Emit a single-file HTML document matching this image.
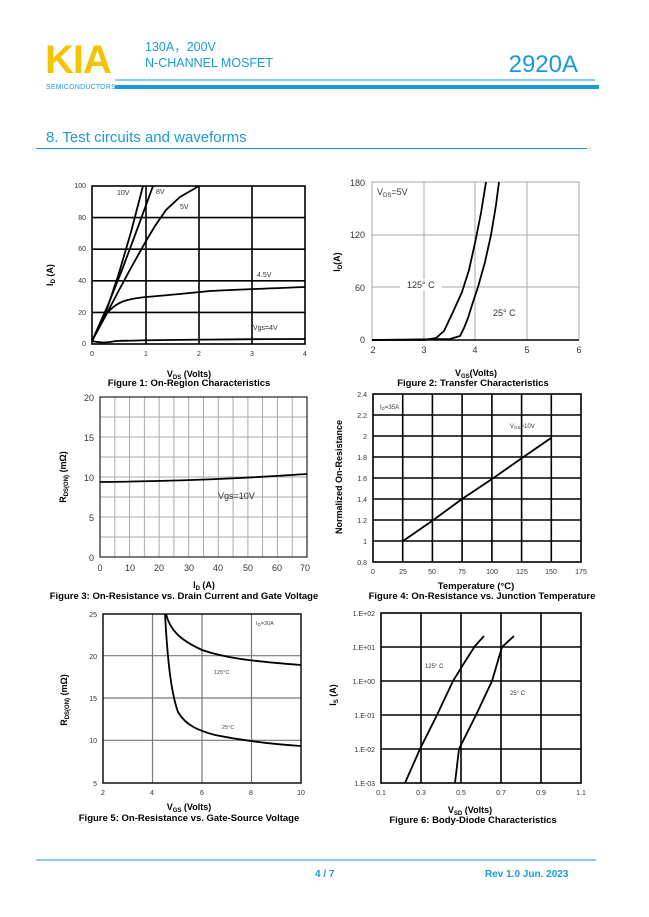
<!DOCTYPE html>
<html><head><meta charset="utf-8"><style>
html,body{margin:0;padding:0;background:#fff;}
svg{display:block;font-family:"Liberation Sans",Arial,sans-serif;}
.t{font-size:7px;fill:#333;}
.t9{font-size:9px;fill:#333;}
.b{font-weight:bold;fill:#000;}
.cap{font-size:9.5px;font-weight:bold;fill:#000;}
.g{stroke:#000;stroke-width:1.6;fill:none;}
.gl{stroke:#aaa;stroke-width:1;fill:none;}
.c{stroke:#000;stroke-width:1.8;fill:none;}
.blue{fill:#1a9bd6;}
</style></head><body>
<svg width="649" height="917" viewBox="0 0 649 917" xmlns="http://www.w3.org/2000/svg">
<!-- header -->
<text x="45" y="73" font-size="40" font-weight="bold" fill="#f5c400" letter-spacing="-1">KIA</text>
<text x="46" y="89" font-size="7" class="blue" letter-spacing="0.2">SEMICONDUCTORS</text>
<text x="145" y="51" font-size="12.5" class="blue">130A，200V</text>
<text x="145" y="67" font-size="12.5" class="blue">N-CHANNEL MOSFET</text>
<text x="578" y="72" font-size="24" class="blue" text-anchor="end">2920A</text>
<rect x="115" y="79.5" width="480" height="1" fill="#1a9bd6"/>
<rect x="115" y="85" width="484" height="4" fill="#1a9bd6"/>
<text x="46" y="142" font-size="15" class="blue">8. Test circuits and waveforms</text>
<rect x="36" y="148" width="551" height="1" fill="#1a9bd6"/>

<!-- Chart 1 -->
<g>
<path class="g" d="M146 186V344M199 186V344M252 186V344M92 312.4H305M92 280.8H305M92 249.2H305M92 217.6H305"/>
<rect x="92" y="186" width="213" height="158" class="g"/>
<g class="t" text-anchor="end">
<text x="86" y="188">100</text><text x="86" y="220">80</text><text x="86" y="251">60</text><text x="86" y="283">40</text><text x="86" y="315">20</text><text x="86" y="346">0</text></g>
<g class="t" text-anchor="middle">
<text x="92" y="356">0</text><text x="146" y="356">1</text><text x="199" y="356">2</text><text x="252" y="356">3</text><text x="305" y="356">4</text></g>
<path class="c" d="M92 341L106 312L119 273L131 232L143 186"/>
<path class="c" d="M92 341L108 305L122 270L138 227L153 186"/>
<path class="c" d="M92 341L105 317L118 292L132 266L146 241L155 226L166 210L180 197L199 186"/>
<path class="c" d="M92 341C100 325 104 316 110 310C118 302 126 299 146 297C170 295 190 293 210 291C250 289 280 288 305 287"/>
<path class="c" d="M92 341C100 343 106 343 116 341C150 340 250 339 305 339"/>
<g class="t"><text x="117" y="195">10V</text><text x="156" y="194">8V</text><text x="180" y="209">5V</text><text x="257" y="277">4.5V</text><text x="253" y="330">Vgs=4V</text></g>
<text x="53" y="275" transform="rotate(-90 53 275)" font-size="9" class="b" text-anchor="middle">I<tspan font-size="6" dy="2">D</tspan><tspan dy="-2"> (A)</tspan></text>
<text x="189" y="377" font-size="9" class="b" text-anchor="middle">V<tspan font-size="6" dy="2">DS</tspan><tspan dy="-2"> (Volts)</tspan></text>
<text x="189" y="386" class="cap" text-anchor="middle">Figure 1: On-Region Characteristics</text>
</g>

<!-- Chart 2 -->
<g>
<path class="gl" d="M424 182V340M475 182V340M527 182V340M372 287H579M372 235H579"/>
<rect x="372" y="182" width="207" height="158" class="gl"/>
<line x1="372" y1="340" x2="579" y2="340" stroke="#000" stroke-width="1.5"/>
<rect x="400" y="279" width="42" height="12" fill="#fff"/>
<rect x="485" y="305" width="40" height="14" fill="#fff"/>
<g class="t9" text-anchor="end"><text x="365" y="186">180</text><text x="365" y="238">120</text><text x="365" y="291">60</text><text x="365" y="343">0</text></g>
<g class="t9" text-anchor="middle"><text x="373" y="353">2</text><text x="424" y="353">3</text><text x="475" y="353">4</text><text x="527" y="353">5</text><text x="579" y="353">6</text></g>
<path class="c" d="M372 340L424 340L436 338L444 331L453 312L462 292L469 270L475 243L481 213L486 182"/>
<path class="c" d="M372 340L450 339L460 336L464 328L468 318L473 302L478 287L485 262L491 235L496 205L499 182"/>
<text x="377" y="195" class="t9">V<tspan font-size="6" dy="2">DS</tspan><tspan dy="-2">=5V</tspan></text>
<text x="407" y="288" class="t9">125° C</text>
<text x="493" y="316" class="t9">25° C</text>
<text x="340" y="262" transform="rotate(-90 340 262)" font-size="9" class="b" text-anchor="middle">I<tspan font-size="6" dy="2">D</tspan><tspan dy="-2">(A)</tspan></text>
<text x="476" y="376" font-size="9" class="b" text-anchor="middle">V<tspan font-size="6" dy="2">GS</tspan><tspan dy="-2">(Volts)</tspan></text>
<text x="473" y="386" class="cap" text-anchor="middle">Figure 2: Transfer Characteristics</text>
</g>

<!-- Chart 3 -->
<g>
<path class="gl" d="M114.8 397V557M129.6 397V557M144.4 397V557M159.1 397V557M173.9 397V557M188.7 397V557M203.5 397V557M218.3 397V557M233.1 397V557M247.9 397V557M262.6 397V557M277.4 397V557M292.2 397V557M100 417H307M100 437H307M100 457H307M100 477H307M100 497H307M100 517H307M100 537H307"/>
<rect x="100" y="397" width="207" height="160" stroke="#222" stroke-width="1.2" fill="none"/>
<g class="t9" text-anchor="end"><text x="94" y="401">20</text><text x="94" y="441">15</text><text x="94" y="481">10</text><text x="94" y="521">5</text><text x="94" y="561">0</text></g>
<g class="t9" text-anchor="middle"><text x="100" y="571">0</text><text x="130" y="571">10</text><text x="159" y="571">20</text><text x="189" y="571">30</text><text x="218" y="571">40</text><text x="248" y="571">50</text><text x="277" y="571">60</text><text x="305" y="571">70</text></g>
<path class="c" d="M100 482C150 481.5 200 480 240 478C270 476.5 290 475 307 474"/>
<text x="218" y="499" class="t9">Vgs=10V</text>
<text x="66" y="477" transform="rotate(-90 66 477)" font-size="9" class="b" text-anchor="middle">R<tspan font-size="6" dy="2">DS(ON)</tspan><tspan dy="-2"> (mΩ)</tspan></text>
<text x="204" y="588" font-size="9" class="b" text-anchor="middle">I<tspan font-size="6" dy="2">D</tspan><tspan dy="-2"> (A)</tspan></text>
<text x="184" y="599" class="cap" text-anchor="middle">Figure 3: On-Resistance vs. Drain Current and Gate Voltage</text>
</g>

<!-- Chart 4 -->
<g>
<path class="g" d="M402.7 394V562M432.4 394V562M462.1 394V562M491.9 394V562M521.6 394V562M551.3 394V562M373 415H581M373 436H581M373 457H581M373 478H581M373 499H581M373 520H581M373 541H581"/>
<rect x="373" y="394" width="208" height="168" class="g"/>
<g class="t" text-anchor="end"><text x="367" y="397">2.4</text><text x="367" y="418">2.2</text><text x="367" y="439">2</text><text x="367" y="460">1.8</text><text x="367" y="481">1.6</text><text x="367" y="502">1.4</text><text x="367" y="523">1.2</text><text x="367" y="544">1</text><text x="367" y="565">0.8</text></g>
<g class="t" text-anchor="middle"><text x="373" y="574">0</text><text x="403" y="574">25</text><text x="432" y="574">50</text><text x="462" y="574">75</text><text x="492" y="574">100</text><text x="522" y="574">125</text><text x="551" y="574">150</text><text x="581" y="574">175</text></g>
<path class="c" d="M403 541L432 521L462 499L492 479L522 458L551 438"/>
<rect x="376" y="400" width="24" height="10" fill="#fff"/>
<text x="380" y="409" font-size="6" fill="#333">I<tspan font-size="4.5" dy="1">D</tspan><tspan dy="-1">=35A</tspan></text>
<text x="510" y="428" font-size="6" fill="#333">V<tspan font-size="4.5" dy="1">GS</tspan><tspan dy="-1">=10V</tspan></text>
<text x="342" y="477" transform="rotate(-90 342 477)" font-size="9" class="b" text-anchor="middle">Normalized On-Resistance</text>
<text x="476" y="589" font-size="9.5" class="b" text-anchor="middle">Temperature (°C)</text>
<text x="482" y="599" class="cap" text-anchor="middle">Figure 4: On-Resistance vs. Junction Temperature</text>
</g>

<!-- Chart 5 -->
<g>
<path stroke="#777" stroke-width="1.2" fill="none" d="M152.5 614V783M202 614V783M251.5 614V783M103 655.7H301M103 698H301M103 740.3H301"/>
<rect x="103" y="614" width="198" height="169" stroke="#111" stroke-width="1.5" fill="none"/>
<g class="t" text-anchor="end"><text x="97" y="617">25</text><text x="97" y="659">20</text><text x="97" y="701">15</text><text x="97" y="743">10</text><text x="97" y="786">5</text></g>
<g class="t" text-anchor="middle"><text x="103" y="795">2</text><text x="152" y="795">4</text><text x="202" y="795">6</text><text x="251" y="795">8</text><text x="301" y="795">10</text></g>
<path class="c" d="M166 614C170 630 180 640 202 650C225 658 250 661 301 665"/>
<path class="c" d="M165 614C167 650 170 690 178 712C186 726 200 731 215 735C240 740 270 744 301 746"/>
<text x="256" y="625" font-size="5.5" fill="#444">I<tspan font-size="4.5" dy="1">D</tspan><tspan dy="-1">=30A</tspan></text>
<text x="214" y="674" font-size="5.5" fill="#444">125°C</text>
<text x="222" y="729" font-size="5.5" fill="#444">25°C</text>
<text x="67" y="700" transform="rotate(-90 67 700)" font-size="9" class="b" text-anchor="middle">R<tspan font-size="6" dy="2">DS(ON)</tspan><tspan dy="-2"> (mΩ)</tspan></text>
<text x="189" y="810" font-size="9" class="b" text-anchor="middle">V<tspan font-size="6" dy="2">GS</tspan><tspan dy="-2"> (Volts)</tspan></text>
<text x="189" y="821" class="cap" text-anchor="middle">Figure 5: On-Resistance vs. Gate-Source Voltage</text>
</g>

<!-- Chart 6 -->
<g>
<path class="g" d="M421 613V783M461 613V783M501 613V783M541 613V783M381 647H581M381 681H581M381 715H581M381 749H581"/>
<rect x="381" y="613" width="200" height="170" class="g"/>
<g class="t" text-anchor="end"><text x="375" y="616">1.E+02</text><text x="375" y="650">1.E+01</text><text x="375" y="684">1.E+00</text><text x="375" y="718">1.E-01</text><text x="375" y="752">1.E-02</text><text x="375" y="786">1.E-03</text></g>
<g class="t" text-anchor="middle"><text x="381" y="795">0.1</text><text x="421" y="795">0.3</text><text x="461" y="795">0.5</text><text x="501" y="795">0.7</text><text x="541" y="795">0.9</text><text x="581" y="795">1.1</text></g>
<path class="c" d="M405 783L420 749L437 715L453 681L466 660L475 646L484 636"/>
<path class="c" d="M455 783L459 749L476 715L492 681L502 647L514 636"/>
<text x="425" y="668" font-size="6" fill="#333">125° C</text>
<text x="510" y="695" font-size="6" fill="#333">25° C</text>
<text x="336" y="695" transform="rotate(-90 336 695)" font-size="9" class="b" text-anchor="middle">I<tspan font-size="6" dy="2">S</tspan><tspan dy="-2"> (A)</tspan></text>
<text x="470" y="813" font-size="9" class="b" text-anchor="middle">V<tspan font-size="6" dy="2">SD</tspan><tspan dy="-2"> (Volts)</tspan></text>
<text x="473" y="823" class="cap" text-anchor="middle">Figure 6: Body-Diode Characteristics</text>
</g>

<!-- footer -->
<rect x="36" y="859.5" width="560" height="1" fill="#1a9bd6"/>
<text x="315" y="877" font-size="10" font-weight="bold" class="blue">4 / 7</text>
<text x="485" y="877" font-size="10" font-weight="bold" class="blue">Rev 1.0   Jun. 2023</text>
</svg>
</body></html>
